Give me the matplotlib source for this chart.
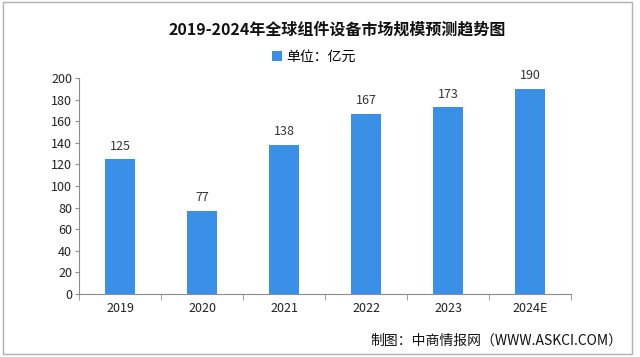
import matplotlib
matplotlib.use('Agg')
import matplotlib.pyplot as plt
from matplotlib.patches import Rectangle
import numpy as np

plt.rcParams['font.family'] = ['Noto Sans CJK SC', 'DejaVu Sans']

years = ['2019', '2020', '2021', '2022', '2023', '2024E']
values = [125, 77, 138, 167, 173, 190]
title = '2019-2024年全球组件设备市场规模预测趋势图'
legend_label = '单位：亿元'
source = '制图：中商情报网（WWW.ASKCI.COM）'

bar_color = '#3a8fe6'
axis_color = '#8c8c8c'

fig = plt.figure(figsize=(6.4, 3.57), dpi=100)
fig.patches.append(Rectangle((0.004, 0.009), 0.983, 0.986, transform=fig.transFigure,
                             fill=False, edgecolor='#b0b0b0', linewidth=1))

ax = fig.add_axes([0.1234, 0.1765, 0.769, 0.605])
x = np.arange(len(years))
bars = ax.bar(x, values, width=0.37, color=bar_color, label=legend_label)
for xi, v in zip(x, values):
    ax.text(xi, v + 6, str(v), ha='center', va='bottom', fontsize=9, color='#333333')

ax.set_xlim(-0.5, len(years) - 0.5)
ax.set_ylim(0, 200)
ax.set_yticks(range(0, 201, 20))
ax.tick_params(axis='y', labelsize=9, length=3, color=axis_color, pad=2, labelcolor='#222222')
ax.set_xticks(x)
ax.set_xticklabels(years, fontsize=9, color='#222222')
ax.tick_params(axis='x', length=0, pad=6)
ax.set_xticks(np.arange(len(years) + 1) - 0.5, minor=True)
ax.tick_params(axis='x', which='minor', length=4, color=axis_color)
for s in ['top', 'right']:
    ax.spines[s].set_visible(False)
for s in ['left', 'bottom']:
    ax.spines[s].set_color(axis_color)

fig.text(0.527, 0.916, title, ha='center', va='center', fontsize=11.5, fontweight='bold', color='#111111')
fig.legend(handles=[bars], labels=[legend_label], loc='center', bbox_to_anchor=(0.49, 0.84),
           frameon=False, fontsize=10, handlelength=0.7, handleheight=0.7, handletextpad=0.3)
fig.text(0.972, 0.045, source, ha='right', va='center', fontsize=10, color='#111111')

fig.savefig('out.png', dpi=100)
